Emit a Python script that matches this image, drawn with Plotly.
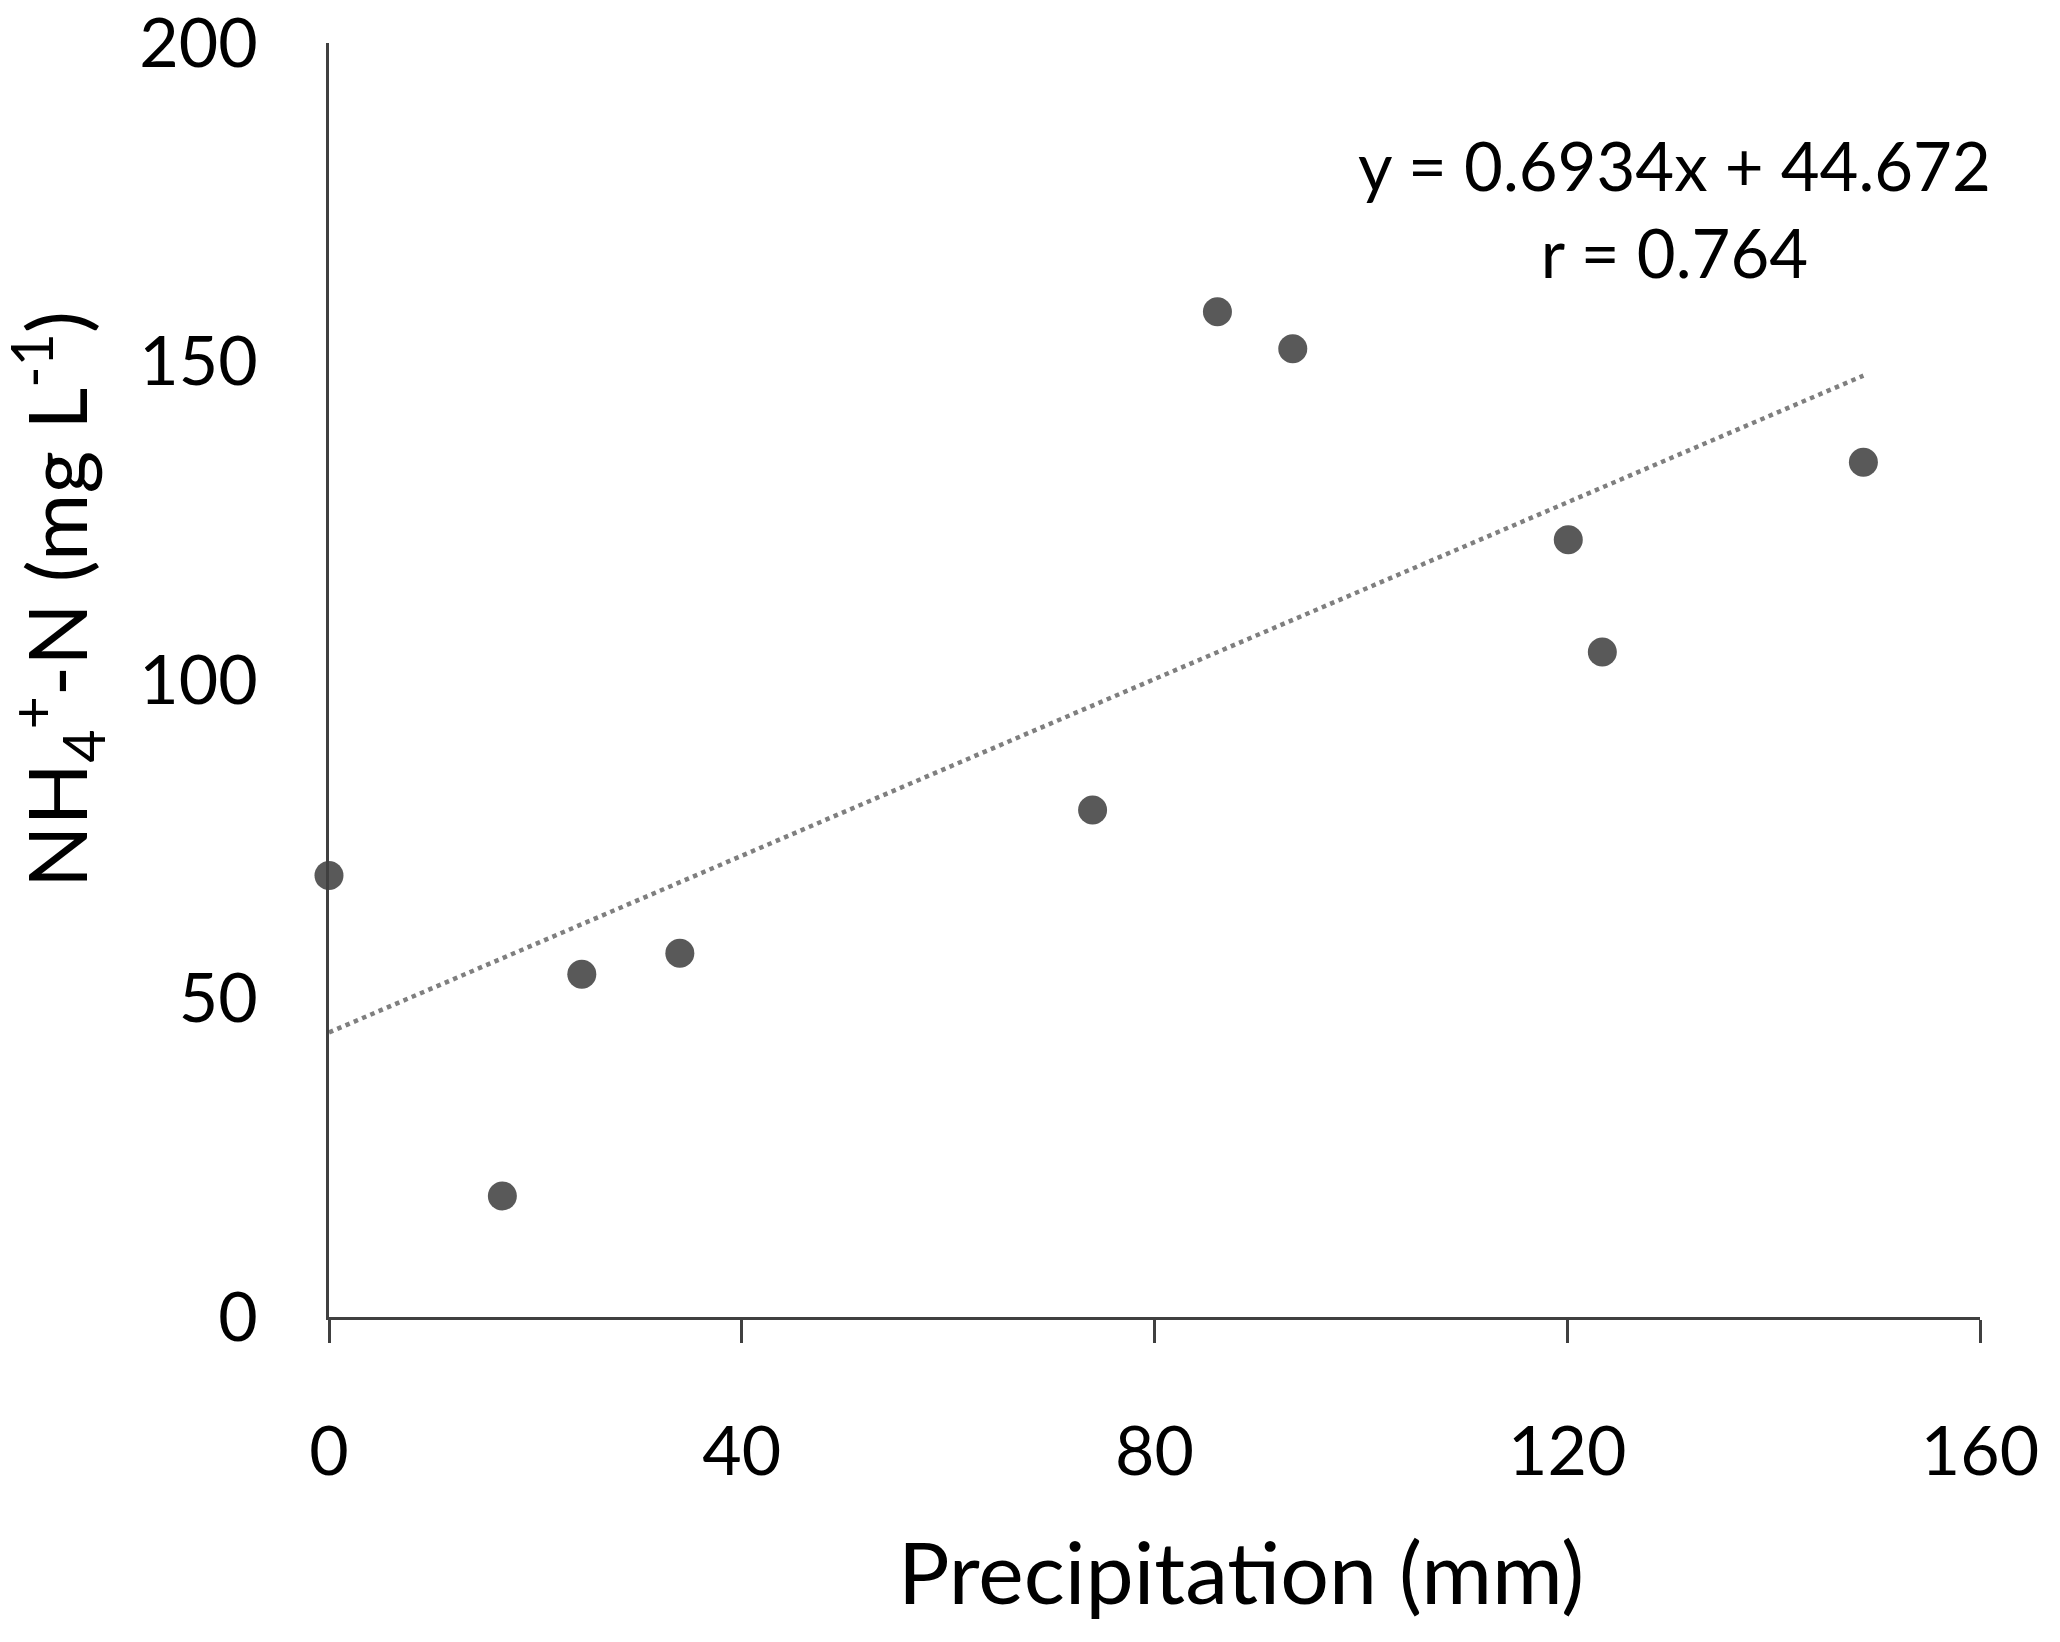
import plotly.graph_objects as go

# Data
precip_mm = [0, 16.8, 24.5, 34.0, 74.0, 86.1, 93.4, 120.1, 123.4, 148.7]
nh4_n = [69.3, 19.0, 53.8, 57.1, 79.6, 157.8, 152.0, 122.0, 104.4, 134.2]
slope = 0.6934
intercept = 44.672
r_value = 0.764
x_ticks = [0, 40, 80, 120, 160]
y_ticks = [0, 50, 100, 150, 200]

FONT = "Lato"

# plot area in figure pixels
L, R, T, B = 321, 88, 35, 333
W, H = 2060, 1642
PW, PH = W - L - R, H - T - B
y0 = H - B


def px(x):
    return (x - L) / PW


def py(y):
    return (y0 - y) / PH


trend_x = [min(precip_mm), max(precip_mm)]
trend_y = [slope * v + intercept for v in trend_x]

fig = go.Figure()
fig.add_trace(go.Scatter(
    x=trend_x, y=trend_y, mode="lines",
    line=dict(color="#7f7f7f", width=4.5, dash="dot"),
    hoverinfo="skip", showlegend=False,
))
fig.add_trace(go.Scatter(
    x=precip_mm, y=nh4_n, mode="markers",
    marker=dict(color="#595959", size=29, line=dict(width=0)),
    showlegend=False, cliponaxis=False,
))

fig.update_layout(
    width=W, height=H,
    margin=dict(l=L, r=R, t=T, b=B, autoexpand=False),
    paper_bgcolor="white", plot_bgcolor="white",
    font=dict(family=FONT, size=68, color="black"),
    xaxis=dict(
        range=[0, 160], tickvals=x_ticks, ticktext=[str(v) for v in x_ticks],
        showgrid=False, zeroline=False, automargin=False,
        showline=True, linecolor="#404040", linewidth=3,
        ticks="outside", ticklen=23, tickwidth=3, tickcolor="#404040",
        ticklabelstandoff=50, ticklabeloverflow="allow",
        tickfont=dict(family=FONT, size=68, color="black"),
    ),
    yaxis=dict(
        range=[0, 200], tickvals=y_ticks, ticktext=[str(v) for v in y_ticks],
        showgrid=False, zeroline=False, automargin=False,
        showline=True, linecolor="#404040", linewidth=2.5,
        ticks="",
        ticklabelstandoff=55, ticklabeloverflow="allow",
        tickfont=dict(family=FONT, size=68, color="black"),
    ),
    annotations=[
        dict(
            text=f"y = {slope}x + {intercept}<br>r = {r_value}",
            xref="paper", yref="paper", x=px(1666), y=py(201),
            xanchor="center", yanchor="middle", showarrow=False, align="center",
            font=dict(family=FONT, size=67, color="black"),
        ),
        dict(
            text="Precipit\u200cation (mm)",
            xref="paper", yref="paper", x=px(1233), y=py(1562),
            xanchor="center", yanchor="middle", showarrow=False,
            font=dict(family=FONT, size=86, color="black"),
        ),
        dict(
            text="NH<sub>4</sub><sup>+</sup>-N (mg L<sup>-1</sup>)",
            xref="paper", yref="paper", x=px(48), y=py(592),
            xanchor="center", yanchor="middle", showarrow=False, textangle=-90,
            font=dict(family=FONT, size=82, color="black"),
        ),
    ],
)

fig.write_html("out.html")
